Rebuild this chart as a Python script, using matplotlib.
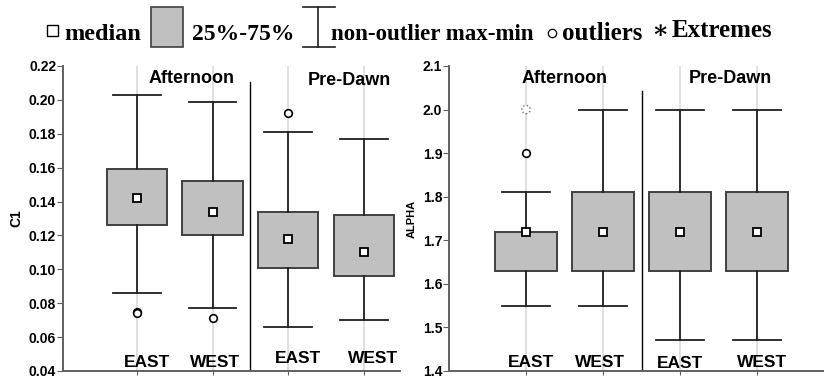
import numpy as np
import matplotlib.pyplot as plt
from matplotlib.patches import Rectangle

# Datos
groups = ['EAST', 'WEST', 'EAST', 'WEST']
periods = ['Afternoon', 'Pre-Dawn']

c1_whishi = [0.203, 0.199, 0.181, 0.177]
c1_q3 = [0.159, 0.152, 0.134, 0.132]
c1_med = [0.142, 0.134, 0.118, 0.110]
c1_q1 = [0.126, 0.120, 0.101, 0.096]
c1_whislo = [0.086, 0.077, 0.066, 0.070]
c1_out = [[0.075, 0.074], [0.071], [0.192], []]
c1_ext = [[], [], [], []]

al_whishi = [1.81, 2.00, 2.00, 2.00]
al_q3 = [1.72, 1.81, 1.81, 1.81]
al_med = [1.72, 1.72, 1.72, 1.72]
al_q1 = [1.63, 1.63, 1.63, 1.63]
al_whislo = [1.55, 1.55, 1.47, 1.47]
al_out = [[1.90], [], [], []]
al_ext = [[2.00], [], [], []]

plt.rcParams['font.family'] = ['Liberation Sans', 'DejaVu Sans']
plt.rcParams['font.weight'] = 'bold'

fig = plt.figure(figsize=(8.24, 3.82), dpi=100)


def panel(ax, whishi, q3, med, q1, whislo, out, ext, ylim, yticks, fmt,
          ylabel, ylsize, tsize, xlim, sep_top, lab_pos, lab_y, per_x, per_y):
    pos = np.arange(1, 5)
    stats = []
    for i in range(4):
        stats.append(dict(med=med[i], q1=q1[i], q3=q3[i], whislo=whislo[i],
                          whishi=whishi[i], fliers=out[i]))
    for p in pos:
        ax.axvline(p, color='#d9d9d9', lw=1.2, zorder=0)
    ax.bxp(stats, positions=pos, widths=0.8, capwidths=0.63,
           patch_artist=True, showfliers=True,
           boxprops=dict(facecolor='#c0c0c0', edgecolor='#404040', lw=1.4),
           whiskerprops=dict(color='#202020', lw=1.3),
           capprops=dict(color='#202020', lw=1.3),
           medianprops=dict(visible=False),
           flierprops=dict(marker='o', markerfacecolor='white',
                           markeredgecolor='black', markersize=5.5, mew=1.2))
    ax.plot(pos, med, 's', ms=6, mfc='white', mec='black', mew=1.3, zorder=5)
    for p, e in zip(pos, ext):
        if e:
            ax.scatter([p] * len(e), e, s=36, facecolor='white',
                       edgecolor='#707070', linewidths=1.0, linestyles=':',
                       zorder=5)
    ax.plot([2.5, 2.5], [ylim[0], sep_top], color='black', lw=1.0)
    ax.set_xlim(*xlim)
    ax.set_ylim(*ylim)
    ax.set_yticks(yticks)
    ax.set_yticklabels([fmt.format(v) for v in yticks], fontsize=tsize,
                       fontweight='bold')
    ax.set_xticks(pos)
    ax.set_xticklabels([])
    ax.tick_params(axis='x', length=3, color='#606060')
    ax.tick_params(axis='y', length=4, color='#606060', pad=1)
    for s in ['top', 'right']:
        ax.spines[s].set_visible(False)
    for s in ['left', 'bottom']:
        ax.spines[s].set_color('#606060')
        ax.spines[s].set_linewidth(1.4)
    ax.set_ylabel(ylabel, fontsize=ylsize, fontweight='bold', labelpad=4)
    for x, y, g in zip(lab_pos, lab_y, groups):
        ax.text(x, y, g, ha='center', va='baseline', fontsize=12.5,
                fontweight='bold', transform=ax.get_xaxis_transform())
    for x, y, t in zip(per_x, per_y, periods):
        ax.text(x, y, t, ha='center', va='center', fontsize=13,
                fontweight='bold', transform=ax.get_xaxis_transform())


ax1 = fig.add_axes([0.0765, 0.0288, 0.409, 0.7985])
panel(ax1, c1_whishi, c1_q3, c1_med, c1_q1, c1_whislo, c1_out, c1_ext,
      (0.04, 0.22), np.round(np.arange(0.04, 0.221, 0.02), 2), '{:.2f}',
      'C1', 10, 10, (0.02, 4.48), 0.2105, [1.13, 2.03, 3.13, 4.12],
      [0.013, 0.013, 0.027, 0.027], [1.72, 3.81], [0.96, 0.953])

ax2 = fig.add_axes([0.545, 0.0288, 0.454, 0.7985])
panel(ax2, al_whishi, al_q3, al_med, al_q1, al_whislo, al_out, al_ext,
      (1.4, 2.1), np.round(np.arange(1.4, 2.101, 0.1), 1), '{:.1f}',
      'ALPHA', 8, 10, (0.0, 4.86), 2.043, [1.07, 1.96, 3.0, 4.06],
      [0.013, 0.013, 0.010, 0.013], [1.5, 3.65], [0.96, 0.96])

# Leyenda superior
leg = fig.add_axes([0, 0, 1, 1], zorder=-1)
leg.set_xlim(0, 824)
leg.set_ylim(382, 0)
leg.axis('off')
tf = dict(family=['Liberation Serif', 'DejaVu Serif'], fontweight='bold',
          fontsize=18, va='baseline')
leg.add_patch(Rectangle((47, 25), 11, 11, fc='white', ec='black', lw=1.0))
leg.text(64, 40, 'median', **dict(tf, fontsize=17.5))
leg.add_patch(Rectangle((151, 7), 32, 40, fc='#c0c0c0', ec='#404040', lw=1.2))
leg.text(192, 40, '25%-75%', **dict(tf, fontsize=17))
leg.plot([318, 318], [7, 47], color='#202020', lw=1.2)
leg.plot([303, 335], [7, 7], color='#202020', lw=1.2)
leg.plot([303, 335], [47, 47], color='#202020', lw=1.2)
leg.text(331, 40, 'non-outlier max-min', **dict(tf, fontsize=16.5))
leg.plot([552.5], [33], 'o', ms=6, mfc='white', mec='black', mew=0.9)
leg.text(562, 40, 'outliers', **tf)
leg.text(660, 38, '\u2217', ha='center', **dict(tf, fontsize=18))
leg.text(672, 37, 'Extremes', **tf)

fig.savefig('out.png', dpi=100)
